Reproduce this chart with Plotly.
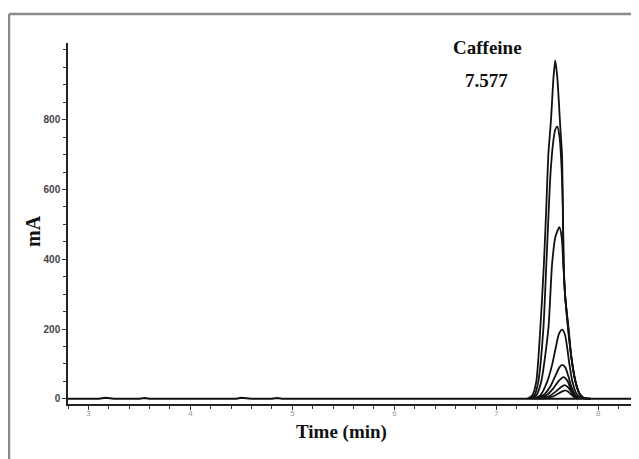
import plotly.graph_objects as go

# ---- data ----
x_range = [2.8, 8.34]
y_range = [-15, 1020]
y_ticks = [0, 200, 400, 600, 800]
x_ticks = [3, 4, 5, 6, 7, 8]

baseline_t = [2.8, 3.1, 3.17, 3.25, 3.5, 3.55, 3.6, 4.3, 4.45, 4.5, 4.6, 4.8, 4.85, 4.9, 8.34]
baseline_v = [0, 0, 3, 0, 0, 2, 0, 0, 0, 3, 0, 0, 2, 0, 0]

peak1_t = [7.304, 7.353, 7.392, 7.431, 7.466, 7.490, 7.510, 7.536, 7.560, 7.577, 7.598, 7.627, 7.644, 7.652, 7.660, 7.676, 7.709, 7.735, 7.775, 7.814, 7.853, 7.922]
peak1_v = [0, 10, 50, 200, 384, 550, 700, 800, 920, 970, 920, 780, 700, 550, 384, 290, 200, 120, 50, 15, 3, 0]

peak2_t = [7.324, 7.373, 7.412, 7.461, 7.490, 7.515, 7.532, 7.559, 7.578, 7.598, 7.620, 7.640, 7.652, 7.660, 7.676, 7.706, 7.735, 7.775, 7.814, 7.853, 7.922]
peak2_v = [0, 10, 50, 200, 384, 550, 650, 740, 772, 780, 750, 660, 550, 384, 290, 200, 120, 50, 15, 3, 0]

peak3_t = [7.343, 7.392, 7.441, 7.510, 7.546, 7.580, 7.618, 7.642, 7.657, 7.676, 7.703, 7.735, 7.775, 7.814, 7.853, 7.922]
peak3_v = [0, 10, 50, 200, 384, 465, 492, 460, 384, 290, 200, 120, 50, 15, 3, 0]

peak4_t = [7.363, 7.431, 7.500, 7.549, 7.585, 7.613, 7.644, 7.672, 7.693, 7.716, 7.745, 7.784, 7.824, 7.882]
peak4_v = [0, 10, 50, 100, 150, 185, 198, 185, 150, 100, 50, 15, 3, 0]

peak5_t = [7.382, 7.461, 7.529, 7.578, 7.618, 7.647, 7.676, 7.706, 7.735, 7.775, 7.824]
peak5_v = [0, 10, 35, 65, 90, 97, 90, 65, 35, 10, 0]

peak6_t = [7.402, 7.490, 7.559, 7.608, 7.659, 7.696, 7.725, 7.765, 7.814]
peak6_v = [0, 10, 30, 50, 62, 52, 32, 10, 0]

peak7_t = [7.422, 7.520, 7.588, 7.632, 7.669, 7.706, 7.735, 7.765, 7.804]
peak7_v = [0, 8, 22, 33, 39, 32, 20, 8, 0]

peak8_t = [7.451, 7.549, 7.608, 7.647, 7.676, 7.706, 7.735, 7.765, 7.794]
peak8_v = [0, 6, 15, 21, 24, 20, 12, 4, 0]

peaks = [
    (peak1_t, peak1_v), (peak2_t, peak2_v), (peak3_t, peak3_v), (peak4_t, peak4_v),
    (peak5_t, peak5_v), (peak6_t, peak6_v), (peak7_t, peak7_v), (peak8_t, peak8_v),
]

peak_name = "Caffeine"
peak_rt = "7.577"
x_title = "Time (min)"
y_title = "mA"

# ---- figure ----
fig = go.Figure()
fig.add_trace(go.Scatter(x=baseline_t, y=baseline_v, mode="lines",
                         line=dict(color="#111111", width=2), hoverinfo="skip"))
for t, v in peaks:
    fig.add_trace(go.Scatter(x=t, y=v, mode="lines",
                             line=dict(color="#111111", width=1.8, shape="spline", smoothing=0.6),
                             hoverinfo="skip"))

OFF = 8  # page body margin
W, H = 639 - OFF, 459 - OFF
L, R, T, B = 68 - OFF, 6, 43 - OFF, 63 - OFF
pw, ph = W - L - R, H - T - B

def px(xp):
    return (xp - OFF - L) / pw

def py(yp):
    return (H - B - (yp - OFF)) / ph

title_font = dict(family="Liberation Serif, DejaVu Serif, serif", color="#111111")

fig.update_layout(
    width=W, height=H,
    margin=dict(l=L, r=R, t=T, b=B),
    paper_bgcolor="white", plot_bgcolor="white",
    showlegend=False,
    xaxis=dict(range=x_range, tickvals=x_ticks, ticktext=[str(v) for v in x_ticks],
               showgrid=False, zeroline=False, showline=True, linecolor="#222222", linewidth=1.5,
               ticks="outside", ticklen=4, tickwidth=1, tickcolor="#333333",
               ticklabelstandoff=-3,
               tickfont=dict(family="Liberation Sans, sans-serif", size=8, color="#999999"),
               minor=dict(dtick=0.2, tick0=3, ticks="outside", ticklen=3, tickcolor="#333333"),
               fixedrange=True),
    yaxis=dict(range=y_range, tickvals=y_ticks, ticktext=["<b>%d</b>" % v for v in y_ticks],
               showgrid=False, zeroline=False, showline=True, linecolor="#222222", linewidth=1.5,
               ticks="outside", ticklen=4, tickwidth=1, tickcolor="#333333",
               tickfont=dict(family="Liberation Sans, sans-serif", size=10, color="#444444"),
               minor=dict(dtick=50, tick0=0, ticks="outside", ticklen=3, tickcolor="#333333"),
               fixedrange=True),
    annotations=[
        dict(text="<b>%s</b>" % peak_name, x=px(487), y=py(48), xref="paper", yref="paper",
             xanchor="center", yanchor="middle", showarrow=False, font=dict(size=19, **title_font)),
        dict(text="<b>%s</b>" % peak_rt, x=px(486), y=py(80), xref="paper", yref="paper",
             xanchor="center", yanchor="middle", showarrow=False, font=dict(size=19, **title_font)),
        dict(text="<b>%s</b>" % x_title, x=px(341), y=py(432), xref="paper", yref="paper",
             xanchor="center", yanchor="middle", showarrow=False, font=dict(size=19, **title_font)),
        dict(text="<b>%s</b>" % y_title, x=px(33), y=py(231), xref="paper", yref="paper",
             xanchor="center", yanchor="middle", showarrow=False, textangle=-90,
             font=dict(size=20, **title_font)),
    ],
    shapes=[
        dict(type="line", xref="paper", yref="paper", x0=px(9), x1=px(9), y0=py(470), y1=py(14),
             line=dict(color="#8a8a8a", width=2.5)),
        dict(type="line", xref="paper", yref="paper", x0=px(9), x1=px(639), y0=py(14), y1=py(14),
             line=dict(color="#8a8a8a", width=2.5)),
    ],
)

fig.write_html("out.html")
